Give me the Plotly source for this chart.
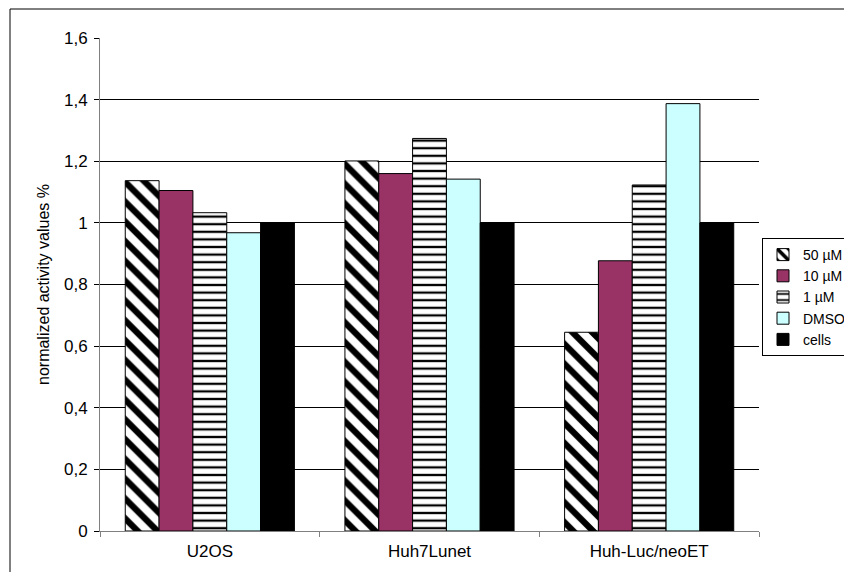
import plotly.graph_objects as go

categories = ["U2OS", "Huh7Lunet", "Huh-Luc/neoET"]
series_names = ["50 µM", "10 µM", "1 µM", "DMSO", "cells"]
vals_50uM = [1.137, 1.201, 0.645]
vals_10uM = [1.105, 1.160, 0.877]
vals_1uM = [1.033, 1.274, 1.123]
vals_dmso = [0.968, 1.142, 1.387]
vals_cells = [1.0, 1.0, 1.0]
y_ticks = [0, 0.2, 0.4, 0.6, 0.8, 1.0, 1.2, 1.4, 1.6]
y_tick_labels = ["0", "0,2", "0,4", "0,6", "0,8", "1", "1,2", "1,4", "1,6"]

FONT = "Liberation Sans, Arial, sans-serif"

# page has an 8px body margin, so the figure is sized to fill the rest
W, H = 844, 564
ML, MR, MT, MB = 92, 93, 30, 41
PW, PH = W - ML - MR, H - MT - MB


def px_x(page_x):
    return (page_x - 8 - ML) / PW


def px_y(page_y):
    return (H - MB - (page_y - 8)) / PH


fig = go.Figure()

# 50 uM - diagonal hatch
fig.add_trace(go.Bar(
    x=categories, y=vals_50uM, name=series_names[0],
    marker=dict(color="white", line=dict(color="black", width=1),
                pattern=dict(shape="\\", fgcolor="black", bgcolor="white",
                             size=14, solidity=0.45, fillmode="replace")),
))
fig.add_trace(go.Bar(
    x=categories, y=vals_10uM, name=series_names[1],
    marker=dict(color="#993366", line=dict(color="black", width=1)),
))
# 1 uM - horizontal lines
fig.add_trace(go.Bar(
    x=categories, y=vals_1uM, name=series_names[2],
    marker=dict(color="white", line=dict(color="black", width=1),
                pattern=dict(shape="-", fgcolor="black", bgcolor="white",
                             size=7.6, solidity=0.3, fillmode="replace")),
))
fig.add_trace(go.Bar(
    x=categories, y=vals_dmso, name=series_names[3],
    marker=dict(color="#CCFFFF", line=dict(color="black", width=1)),
))
fig.add_trace(go.Bar(
    x=categories, y=vals_cells, name=series_names[4],
    marker=dict(color="black", line=dict(color="black", width=1)),
))

fig.update_layout(
    width=W, height=H,
    margin=dict(l=ML, r=MR, t=MT, b=MB, autoexpand=False),
    paper_bgcolor="white", plot_bgcolor="white",
    barmode="group", bargap=0.23, bargroupgap=0,
    font=dict(family=FONT, size=17, color="black"),
    showlegend=True,
    legend=dict(x=px_x(762), y=px_y(238), xanchor="left", yanchor="top",
                bordercolor="black", borderwidth=1, bgcolor="white",
                font=dict(family=FONT, size=14), traceorder="normal"),
    xaxis=dict(showline=True, linecolor="#808080", linewidth=1,
               ticks="outside", tickson="boundaries", ticklen=5,
               tickcolor="#808080", showgrid=False, automargin=False,
               ticklabelstandoff=5,
               tickfont=dict(family=FONT, size=17)),
    yaxis=dict(range=[0, 1.6], tickvals=y_ticks, ticktext=y_tick_labels,
               showline=True, linecolor="#808080", linewidth=1,
               ticks="outside", ticklen=5, tickcolor="black",
               showgrid=True, gridcolor="black", gridwidth=1,
               zeroline=False, automargin=False, ticklabelstandoff=3,
               title=dict(text="normalized activity values %", standoff=10,
                          font=dict(family=FONT, size=16)),
               tickfont=dict(family=FONT, size=17)),
    # chart-area frame: only the top and left edges fall inside the window
    shapes=[
        dict(type="line", xref="paper", yref="paper",
             x0=px_x(10), x1=px_x(860), y0=px_y(9), y1=px_y(9),
             line=dict(color="black", width=1), layer="below"),
        dict(type="line", xref="paper", yref="paper",
             x0=px_x(10), x1=px_x(10), y0=px_y(9), y1=px_y(600),
             line=dict(color="black", width=1), layer="below"),
    ],
)

fig.write_html("out.html")
